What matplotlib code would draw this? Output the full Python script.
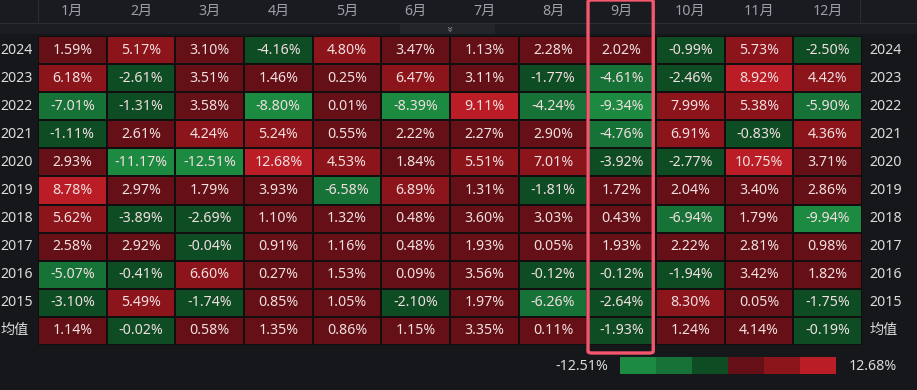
import numpy as np
import matplotlib
matplotlib.use("Agg")
import matplotlib.pyplot as plt
import matplotlib.transforms as mtrans
from matplotlib.colors import ListedColormap, BoundaryNorm
from matplotlib.patches import Rectangle, FancyBboxPatch

plt.rcParams['font.family'] = ['Noto Sans', 'Noto Sans CJK SC', 'DejaVu Sans']

months = ["1月", "2月", "3月", "4月", "5月", "6月", "7月", "8月", "9月", "10月", "11月", "12月"]
rows = ["2024", "2023", "2022", "2021", "2020", "2019", "2018", "2017", "2016", "2015", "均值"]
r2024 = [1.59, 5.17, 3.10, -4.16, 4.80, 3.47, 1.13, 2.28, 2.02, -0.99, 5.73, -2.50]
r2023 = [6.18, -2.61, 3.51, 1.46, 0.25, 6.47, 3.11, -1.77, -4.61, -2.46, 8.92, 4.42]
r2022 = [-7.01, -1.31, 3.58, -8.80, 0.01, -8.39, 9.11, -4.24, -9.34, 7.99, 5.38, -5.90]
r2021 = [-1.11, 2.61, 4.24, 5.24, 0.55, 2.22, 2.27, 2.90, -4.76, 6.91, -0.83, 4.36]
r2020 = [2.93, -11.17, -12.51, 12.68, 4.53, 1.84, 5.51, 7.01, -3.92, -2.77, 10.75, 3.71]
r2019 = [8.78, 2.97, 1.79, 3.93, -6.58, 6.89, 1.31, -1.81, 1.72, 2.04, 3.40, 2.86]
r2018 = [5.62, -3.89, -2.69, 1.10, 1.32, 0.48, 3.60, 3.03, 0.43, -6.94, 1.79, -9.94]
r2017 = [2.58, 2.92, -0.04, 0.91, 1.16, 0.48, 1.93, 0.05, 1.93, 2.22, 2.81, 0.98]
r2016 = [-5.07, -0.41, 6.60, 0.27, 1.53, 0.09, 3.56, -0.12, -0.12, -1.94, 3.42, 1.82]
r2015 = [-3.10, 5.49, -1.74, 0.85, 1.05, -2.10, 1.97, -6.26, -2.64, 8.30, 0.05, -1.75]
ravg = [1.14, -0.02, 0.58, 1.35, 0.86, 1.15, 3.35, 0.11, -1.93, 1.24, 4.14, -0.19]
highlight_month = "9月"

data = np.array([r2024, r2023, r2022, r2021, r2020, r2019, r2018, r2017, r2016, r2015, ravg])
vmin, vmax = data.min(), data.max()

colors6 = ["#1c8a40", "#167236", "#0e4c24", "#641016", "#8c141b", "#bb1d26"]
bounds = [vmin, vmin * 2 / 3, vmin / 3, 0, vmax / 3, vmax * 2 / 3, vmax]
cmap = ListedColormap(colors6)
norm = BoundaryNorm(bounds, cmap.N, clip=True)

BG = "#16171b"
W, H = 917, 390
fig = plt.figure(figsize=(W / 100, H / 100), dpi=100, facecolor=BG)

def fx(px):
    return px / W

def fy(py):
    return 1 - py / H

# header decorations (behind everything)
deco = dict(transform=fig.transFigure, lw=0, zorder=-5)
fig.add_artist(Rectangle((0, fy(23)), 1, 23 / H, color="#1a1b20", **deco))
fig.add_artist(Rectangle((0, fy(34)), 1, 11 / H, color="#1c1d22", **deco))
fig.add_artist(Rectangle((fx(400), fy(34)), fx(95), 11 / H, color="#24252b", **deco))
fig.add_artist(Rectangle((0, fy(24)), 1, 1.2 / H, color="#2c2d33", **deco))
for xp in (38, 860):
    fig.add_artist(Rectangle((fx(xp), fy(23)), 1.2 / W, 23 / H, color="#2c2d33", **deco))
fig.text(fx(448), fy(29), "»", rotation=-90, color="#8d8f96", fontsize=8, ha="center", va="center",
         family="DejaVu Sans")

ax = fig.add_axes([fx(38), fy(345), fx(824), 309 / H])
ax.set_facecolor(BG)
nr, nc = data.shape
ax.pcolormesh(np.arange(nc + 1) - 0.5, np.arange(nr + 1) - 0.5, data, cmap=cmap, norm=norm,
              edgecolors="#120e10", linewidth=1.2)
ax.set_xlim(-0.5, nc - 0.5)
ax.set_ylim(nr - 0.5, -0.5)
ax.axis("off")

FS = 10.2
for i in range(nr):
    for j in range(nc):
        ax.text(j, i, f"{data[i, j]:.2f}%", ha="center", va="center", color="#f1dfe0", fontsize=FS)

tr_xfig = mtrans.blended_transform_factory(fig.transFigure, ax.transData)
for i, r in enumerate(rows):
    ax.text(fx(0), i, r, transform=tr_xfig, ha="left", va="center", color="#dcdcdc", fontsize=FS)
    ax.text(fx(869), i, r, transform=tr_xfig, ha="left", va="center", color="#dcdcdc", fontsize=FS)

tr_yfig = mtrans.blended_transform_factory(ax.transData, fig.transFigure)
for j, m in enumerate(months):
    ax.text(j, fy(11), m, transform=tr_yfig, ha="center", va="center", color="#9d9fa6", fontsize=FS)

# highlight box
hj = months.index(highlight_month)
pitch = 309 / nr
top = -0.5 - 36 / pitch
bot = nr - 0.5 + 8 / pitch
box = FancyBboxPatch((hj - 0.49, top), 0.95, bot - top, boxstyle="round,pad=0,rounding_size=0.06",
                     fill=False, edgecolor="#f4566e", linewidth=2.4, clip_on=False, zorder=5)
ax.add_patch(box)

# colorbar
cax = fig.add_axes([fx(620), fy(374), fx(216), 17 / H])
cax.imshow(np.arange(6).reshape(1, -1), cmap=cmap, aspect="auto", interpolation="nearest")
cax.axis("off")
fig.text(fx(608), fy(366), f"{vmin:.2f}%", ha="right", va="center", color="#dcdcdc", fontsize=FS)
fig.text(fx(849), fy(366), f"{vmax:.2f}%", ha="left", va="center", color="#dcdcdc", fontsize=FS)

fig.savefig("out.png", dpi=100, facecolor=BG)
